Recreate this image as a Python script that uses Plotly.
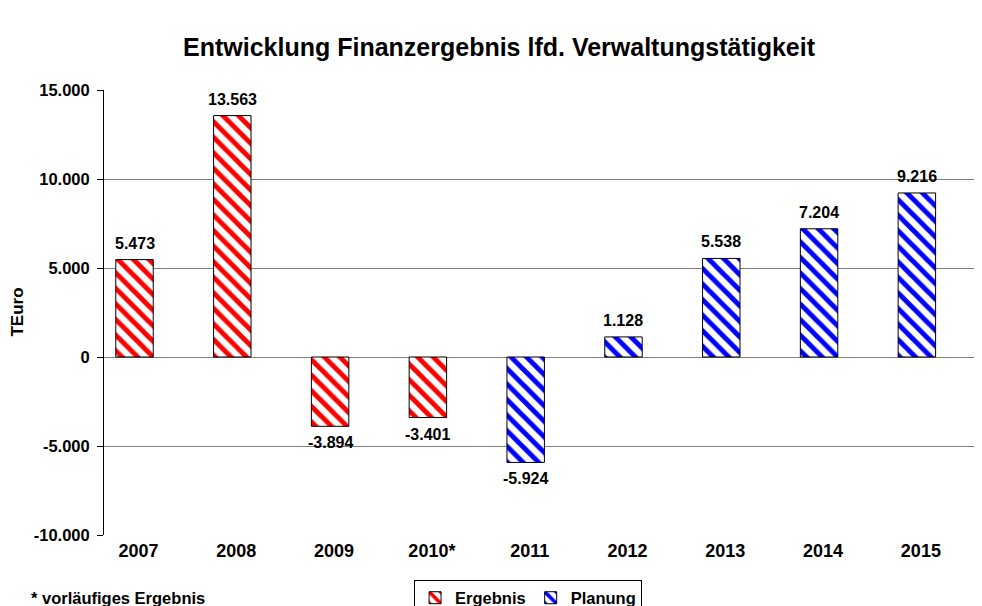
import plotly.graph_objects as go

years_ergebnis = ["2007", "2008", "2009", "2010*"]
values_ergebnis = [5473, 13563, -3894, -3401]
years_planung = ["2011", "2012", "2013", "2014", "2015"]
values_planung = [-5924, 1128, 5538, 7204, 9216]
tick_vals = [-10000, -5000, 0, 5000, 10000, 15000]

FONT = "Liberation Sans, Arial"
categories = years_ergebnis + years_planung


def fmt(v):
    return f"{v:,}".replace(",", ".")


fig = go.Figure()
labels = []
for name, x, y, col in [
    ("Ergebnis", years_ergebnis, values_ergebnis, "#ff0000"),
    ("Planung", years_planung, values_planung, "#0000ff"),
]:
    fig.add_bar(
        name=name,
        x=x,
        y=y,
        width=0.383,
        marker=dict(
            color="white",
            line=dict(color="black", width=1),
            pattern=dict(shape="\\", fgcolor=col, bgcolor="white", size=11,
                         solidity=0.45, fgopacity=1, fillmode="replace"),
        ),
    )
    # value labels above / below each bar (category index, since the
    # year strings would otherwise be read as numbers)
    for xi, yi in zip(x, y):
        labels.append(dict(
            x=categories.index(xi), y=yi, text=f"<b>{fmt(yi)}</b>",
            xref="x", yref="y", showarrow=False,
            yanchor="bottom" if yi >= 0 else "top",
            yshift=6 if yi >= 0 else -6,
            font=dict(size=16),
        ))

labels.append(dict(
    text="<b>* vorläufiges Ergebnis</b>",
    xref="paper", yref="paper", x=-0.0854, y=-0.1416,
    xanchor="left", yanchor="middle", showarrow=False,
    font=dict(size=16.5),
))
labels.append(dict(
    text="<b>TEuro</b>",
    xref="paper", yref="paper", x=-0.099, y=0.5,
    xanchor="center", yanchor="middle", textangle=-90, showarrow=False,
    font=dict(size=17),
))

fig.update_layout(
    width=982,
    height=606,
    barmode="overlay",
    plot_bgcolor="white",
    paper_bgcolor="white",
    font=dict(family=FONT, color="black"),
    margin=dict(l=96, r=8, t=82, b=79, autoexpand=False),
    title=dict(
        text="<b>Entwicklung Finanzergebnis lfd. Verwaltungstätigkeit</b>",
        x=0.5, xanchor="center", y=0.9356, yanchor="middle",
        font=dict(size=25),
        automargin=False,
    ),
    xaxis=dict(
        categoryorder="array",
        categoryarray=categories,
        range=[-0.312, 8.666],
        tickfont=dict(size=18, weight="bold"),
        showline=False,
        ticks="",
        ticklabelshift=4,
        ticklabelstandoff=3,
        automargin=False,
    ),
    yaxis=dict(
        range=[-10000, 15000],
        tickvals=tick_vals,
        ticktext=[fmt(v) for v in tick_vals],
        tickfont=dict(size=16.5, weight="bold"),
        showgrid=True,
        gridcolor="#808080",
        zeroline=False,
        showline=True,
        linecolor="black",
        ticks="outside",
        ticklen=6,
        tickcolor="black",
        ticklabelstandoff=4,
        automargin=False,
    ),
    legend=dict(
        orientation="h",
        x=0.483, xanchor="center",
        y=-0.1, yanchor="top",
        bordercolor="black",
        borderwidth=1,
        font=dict(size=16.5, weight="bold"),
        itemwidth=30,
    ),
    annotations=labels,
)

fig.write_html("out.html")
